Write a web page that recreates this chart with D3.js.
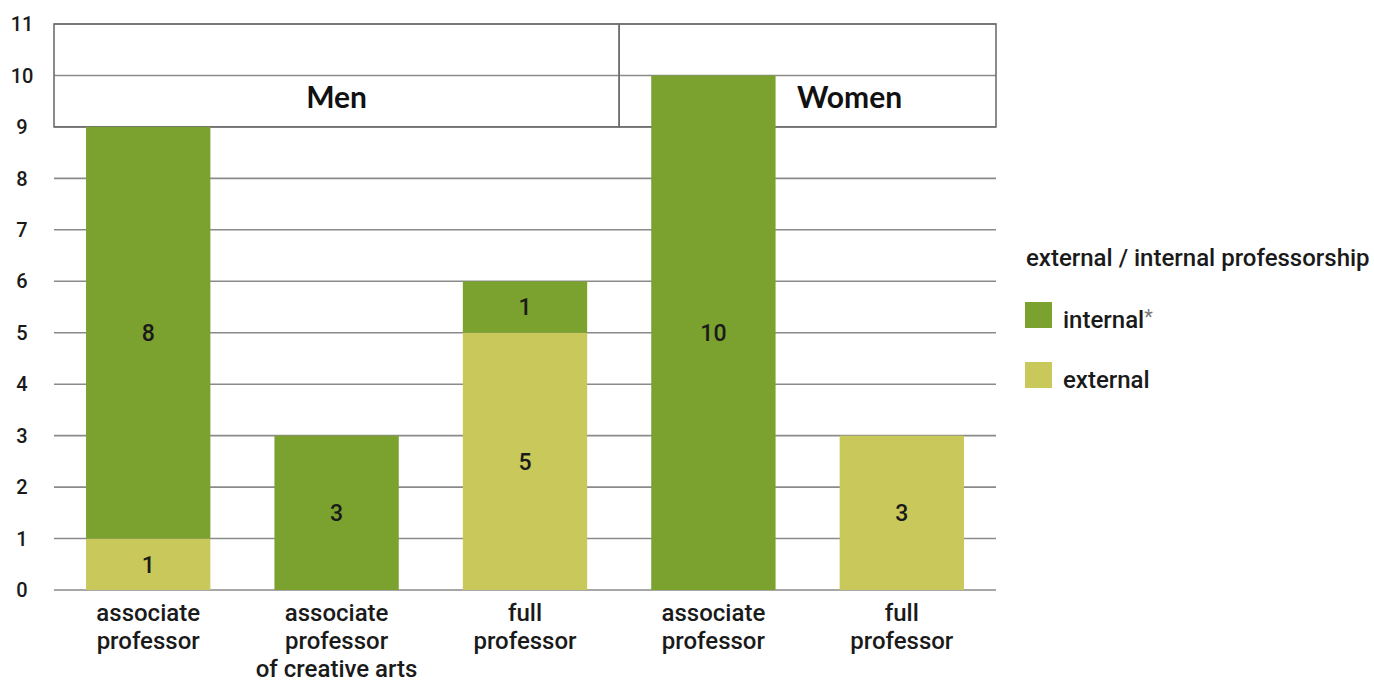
<!DOCTYPE html>
<html>
<head>
<meta charset="utf-8">
<script src="https://cdn.jsdelivr.net/npm/d3@7"></script>
<style>
  html, body { margin: 0; padding: 0; background: #fff; }
  svg { display: block; font-family: Roboto, "Noto Sans", sans-serif; }
</style>
</head>
<body>
<svg id="chart" width="1374" height="684"></svg>
<script>
// Professorship appointments by position and gender
const categories = ["M-assoc", "M-assoc-arts", "M-full", "W-assoc", "W-full"];
const categoryLabels = [
  ["associate", "professor"],
  ["associate", "professor", "of creative arts"],
  ["full", "professor"],
  ["associate", "professor"],
  ["full", "professor"]
];
const externalValues = [1, 0, 5, 0, 3];
const internalValues = [8, 3, 1, 10, 0];
const groups = [
  { name: "Men", members: ["M-assoc", "M-assoc-arts", "M-full"] },
  { name: "Women", members: ["W-assoc", "W-full"] }
];
const yTicks = [0, 1, 2, 3, 4, 5, 6, 7, 8, 9, 10, 11];
const seriesNames = ["internal", "external"];
const seriesLabels = { internal: "internal", external: "external" };
const colors = { internal: "#7ba12f", external: "#c8c95a" };
const legendTitle = "external / internal professorship";

const svg = d3.select("#chart");
const plot = { left: 54, right: 996, top: 24, bottom: 590 };

const x = d3.scaleBand().domain(categories)
  .range([plot.left, plot.right]).paddingInner(0.34).paddingOuter(0.17);
const y = d3.scaleLinear().domain([0, 11]).range([plot.bottom, plot.top]);

// horizontal gridlines
svg.append("g").selectAll("line").data(yTicks).join("line")
  .attr("x1", plot.left).attr("x2", plot.right)
  .attr("y1", d => y(d)).attr("y2", d => y(d))
  .attr("stroke", "#8a8a8a").attr("stroke-width", 1.6);

// y tick labels
svg.append("g").selectAll("text").data(yTicks).join("text")
  .attr("x", 22).attr("y", d => y(d)).attr("dy", "0.36em")
  .attr("text-anchor", "middle").attr("font-size", 20).attr("font-weight", 500)
  .attr("fill", "#1a1a1a").text(d => d);

// group header boxes spanning 9..11
const headerTop = y(11), headerBottom = y(9);
const header = svg.append("g");
groups.forEach((g, i) => {
  const first = g.members[0], last = g.members[g.members.length - 1];
  const x0 = i === 0 ? plot.left : (x(first) - x.step() * x.paddingInner() / 2);
  const x1 = i === groups.length - 1 ? plot.right : (x(last) + x.bandwidth() + x.step() * x.paddingInner() / 2);
  header.append("rect")
    .attr("x", x0).attr("y", headerTop)
    .attr("width", x1 - x0).attr("height", headerBottom - headerTop)
    .attr("fill", "none").attr("stroke", "#6e6e6e").attr("stroke-width", 1.6);
  // the second group's title sits right of its first (tall) bar
  const cx = i === 0 ? (x0 + x1) / 2 : (x0 + x1) / 2 + 42;
  header.append("text")
    .attr("x", cx).attr("y", (y(10) + y(9)) / 2 - 4).attr("dy", "0.36em")
    .attr("text-anchor", "middle").attr("font-family", "Lato, sans-serif")
    .attr("font-weight", 700).attr("font-size", 30).attr("fill", "#111")
    .text(g.name);
});

// stacked bars
const rows = categories.map((c, i) => ({ cat: c, external: externalValues[i], internal: internalValues[i] }));
const stack = d3.stack().keys(["external", "internal"])(rows);
const bars = svg.append("g");
stack.forEach(layer => {
  layer.forEach((seg, i) => {
    const v = seg[1] - seg[0];
    if (v <= 0) return;
    const cat = categories[i];
    bars.append("rect")
      .attr("x", x(cat)).attr("width", x.bandwidth())
      .attr("y", y(seg[1])).attr("height", y(seg[0]) - y(seg[1]))
      .attr("fill", colors[layer.key]);
    bars.append("text")
      .attr("x", x(cat) + x.bandwidth() / 2)
      .attr("y", y((seg[0] + seg[1]) / 2)).attr("dy", "0.36em")
      .attr("text-anchor", "middle").attr("font-size", 23).attr("font-weight", 500)
      .attr("fill", "#1a1a1a").text(v);
  });
});

// category labels
const catG = svg.append("g");
categories.forEach((c, i) => {
  const t = catG.append("text")
    .attr("x", x(c) + x.bandwidth() / 2).attr("y", 621)
    .attr("text-anchor", "middle").attr("font-size", 24).attr("font-weight", 500)
    .attr("fill", "#1a1a1a");
  categoryLabels[i].forEach((line, j) => {
    t.append("tspan").attr("x", x(c) + x.bandwidth() / 2).attr("dy", j === 0 ? 0 : 28).text(line);
  });
});

// legend
const legend = svg.append("g");
legend.append("text").attr("x", 1026).attr("y", 266)
  .attr("font-size", 24).attr("font-weight", 500).attr("fill", "#1a1a1a").text(legendTitle);
seriesNames.forEach((s, i) => {
  const ly = 302 + i * 60;
  legend.append("rect").attr("x", 1025).attr("y", ly).attr("width", 27).attr("height", 26)
    .attr("fill", colors[s]);
  const t = legend.append("text").attr("x", 1063).attr("y", ly + 26)
    .attr("font-size", 24).attr("font-weight", 500).attr("fill", "#1a1a1a").text(seriesLabels[s]);
  if (s === "internal") t.append("tspan").attr("fill", "#777").attr("font-weight", 400)
    .attr("font-size", 20).attr("dy", "-0.2em").text("*");
});
</script>
</body>
</html>
